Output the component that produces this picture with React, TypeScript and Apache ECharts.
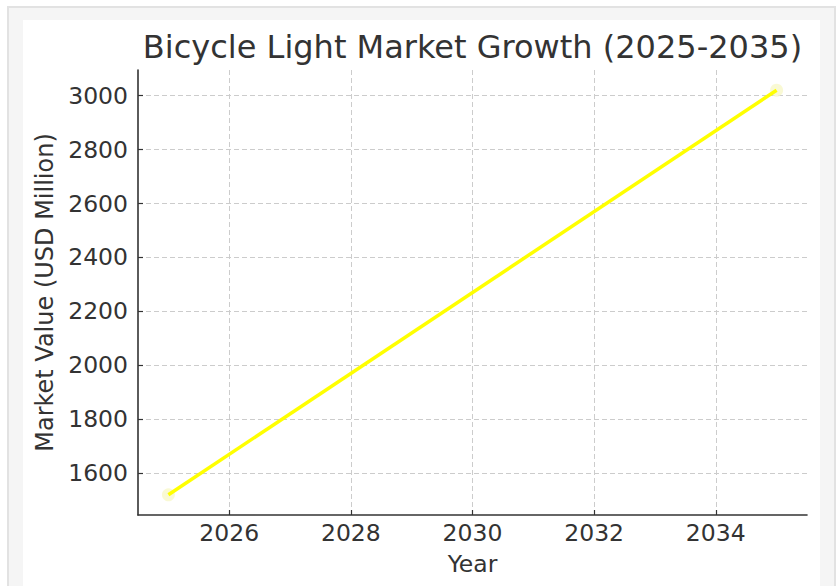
import React, { useEffect, useRef } from "react";
import * as echarts from "echarts";

const years = [2025, 2035];
const marketValues = [1520, 3020];
const xTicks = [2026, 2028, 2030, 2032, 2034];
const yTicks = [1600, 1800, 2000, 2200, 2400, 2600, 2800, 3000];
const titleText = "Bicycle Light Market Growth (2025-2035)";
const xName = "Year";
const yName = "Market Value (USD Million)";

const FONT = "DejaVu Sans";

export default function App() {
  const ref = useRef<HTMLDivElement>(null);
  useEffect(() => {
    if (!ref.current) return;
    const chart = echarts.init(ref.current, undefined, { renderer: "svg" });
    const pts = years.map((y, i) => [y, marketValues[i]]);
    chart.setOption({
      animation: false,
      backgroundColor: "transparent",
      textStyle: { fontFamily: FONT },
      grid: { left: 138, right: 31, top: 70, bottom: 71, containLabel: false },
      graphic: [
        {
          type: "text",
          x: 472.5,
          y: 47,
          style: {
            text: titleText,
            fontFamily: FONT,
            fontSize: 32,
            fill: "#333333",
            textAlign: "center",
            textVerticalAlign: "middle",
          },
        },
      ],
      xAxis: {
        type: "value",
        min: 2024.5,
        max: 2035.5,
        name: xName,
        nameLocation: "middle",
        nameGap: 37,
        nameTextStyle: { fontFamily: FONT, fontSize: 23.5, color: "#333333" },
        axisLine: { show: true, onZero: false, lineStyle: { color: "#333333", width: 1.6 } },
        axisTick: { show: true, inside: true, length: 5, customValues: xTicks, lineStyle: { color: "#333333", width: 1.2 } },
        axisLabel: { customValues: xTicks, margin: 6, fontFamily: FONT, fontSize: 23.5, color: "#333333", formatter: (v: number) => String(v) },
        splitLine: { show: true, lineStyle: { color: "#cccccc", type: [5, 3], width: 1 } },
      },
      yAxis: {
        type: "value",
        min: 1445,
        max: 3095,
        name: yName,
        nameLocation: "middle",
        nameGap: 80,
        nameTextStyle: { fontFamily: FONT, fontSize: 24, color: "#333333" },
        axisLine: { show: true, onZero: false, lineStyle: { color: "#333333", width: 1.6 } },
        axisTick: { show: true, inside: true, length: 5, customValues: yTicks, lineStyle: { color: "#333333", width: 1.2 } },
        axisLabel: { customValues: yTicks, margin: 10, fontFamily: FONT, fontSize: 23.5, color: "#333333", formatter: (v: number) => String(v) },
        splitLine: { show: true, lineStyle: { color: "#cccccc", type: [5, 3], width: 1 } },
      },
      series: [
        {
          type: "scatter",
          data: pts,
          symbolSize: 13,
          itemStyle: { color: "#f7f7c9" },
          z: 1,
        },
        {
          type: "line",
          data: pts,
          showSymbol: false,
          symbol: "none",
          lineStyle: { color: "#ffff00", width: 3.5 },
          z: 2,
        },
      ],
    });
    return () => chart.dispose();
  }, []);
  return (
    <div style={{ position: "fixed", left: 0, top: 0, width: 838, height: 586, background: "#ffffff", overflow: "hidden" }}>
      <div style={{ position: "absolute", left: 7, top: 6, width: 825, height: 620, border: "2px solid #e2e2e2", background: "#f5f5f5" }} />
      <div style={{ position: "absolute", left: 23, top: 20, width: 797, height: 600, background: "#ffffff" }} />
      <div ref={ref} style={{ position: "absolute", left: 0, top: 0, width: 838, height: 586 }} />
    </div>
  );
}
